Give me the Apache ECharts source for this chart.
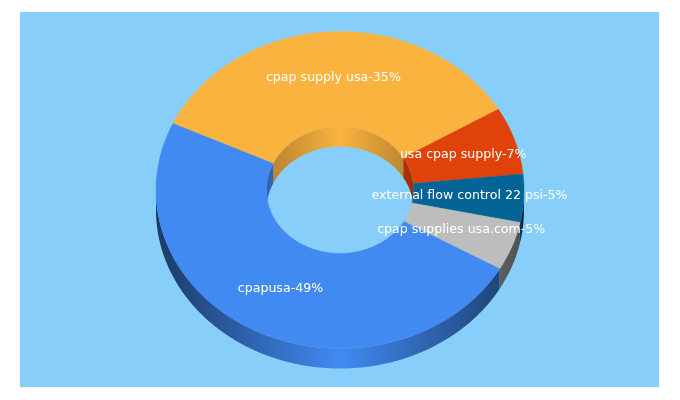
<!DOCTYPE html>
<html>
<head>
<meta charset="utf-8">
<style>html,body{margin:0;padding:0;background:#fff}#c{width:680px;height:400px}</style>
<script src="https://cdn.jsdelivr.net/npm/echarts@6/dist/echarts.min.js"></script>
</head>
<body>
<div id="c"></div>
<script>
var categories = ['cpap supply usa', 'usa cpap supply', 'external flow control 22 psi', 'cpap supplies usa.com', 'cpapusa'];
var values = [34.6, 6.9, 4.9, 5.0, 48.6];
var colors = ['#FBB340', '#E0420A', '#056496', '#BDBDBD', '#418AF2'];

var START = 294.8, CX = 340, CY = 190, RX = 184, RY = 158.5, HOLE = 0.4, DEPTH = 20;
var total = values.reduce(function (a, b) { return a + b; }, 0);
var spans = [], acc = START;
values.forEach(function (v) {
  var s = v / total * 360;
  spans.push([acc, acc + s]);
  acc += s;
});
function pt(deg, f, dy) {
  var a = deg * Math.PI / 180;
  return [CX + RX * f * Math.sin(a), CY - RY * f * Math.cos(a) + (dy || 0)];
}
function arc(a0, a1, f, dy) {
  var out = [], n = Math.max(2, Math.ceil(Math.abs(a1 - a0) / 0.5));
  for (var i = 0; i <= n; i++) out.push(pt(a0 + (a1 - a0) * i / n, f, dy));
  return out;
}
function shade(hex, k) {
  var n = parseInt(hex.slice(1), 16);
  return 'rgb(' + Math.round((n >> 16 & 255) * k) + ',' + Math.round((n >> 8 & 255) * k) + ',' + Math.round((n & 255) * k) + ')';
}
function wallFill(color, f, edge) {
  return {
    type: 'linear', global: true, x: CX - RX * f, y: 0, x2: CX + RX * f, y2: 0,
    colorStops: [
      { offset: 0, color: shade(color, edge) },
      { offset: 0.5, color: color },
      { offset: 1, color: shade(color, edge) }
    ]
  };
}
// intersection of a span (unwrapped degrees) with a visible window
function clip(span, lo, hi) {
  var res = [];
  [-720, -360, 0, 360].forEach(function (o) {
    var a = Math.max(span[0] + o, lo), b = Math.min(span[1] + o, hi);
    if (b > a) res.push([a, b]);
  });
  return res;
}
function band(a, b, f) {
  return arc(a, b, f, 0).concat(arc(b, a, f, DEPTH));
}
function renderWalls(params) {
  var i = params.dataIndex, kids = [], c = colors[i], sp = spans[i];
  clip(sp, 90, 270).forEach(function (w) {
    kids.push({ type: 'polygon', silent: true, shape: { points: band(w[0], w[1], 1) }, style: { fill: wallFill(c, 1, 0.42) } });
  });
  clip(sp, -90, 90).forEach(function (w) {
    kids.push({ type: 'polygon', silent: true, shape: { points: band(w[0], w[1], HOLE) }, style: { fill: wallFill(c, HOLE, 0.72) } });
  });
  return { type: 'group', children: kids };
}
function renderTop(params) {
  var i = params.dataIndex, sp = spans[i];
  var pts = arc(sp[0], sp[1], 1, 0).concat(arc(sp[1], sp[0], HOLE, 0));
  return { type: 'polygon', silent: true, shape: { points: pts }, style: { fill: colors[i], stroke: colors[i], lineWidth: 0.4 } };
}
function renderLabel(params) {
  var i = params.dataIndex, sp = spans[i];
  var p = pt((sp[0] + sp[1]) / 2, 0.705, -0.5);
  return {
    type: 'text', silent: true, x: p[0], y: p[1],
    style: {
      text: categories[i] + '-' + Math.round(values[i]) + '%',
      fill: '#fff', font: '12.6px "DejaVu Sans"', align: 'center', verticalAlign: 'middle'
    }
  };
}
var chart = echarts.init(document.getElementById('c'), null, { renderer: 'canvas' });
chart.setOption({
  animation: false,
  backgroundColor: '#fff',
  graphic: [{ type: 'rect', z: -1, silent: true, shape: { x: 20, y: 12, width: 639, height: 375 }, style: { fill: '#87CEFA' } }],
  xAxis: { show: false }, yAxis: { show: false },
  series: [
    { type: 'custom', coordinateSystem: 'none', z: 2, data: values, renderItem: renderWalls },
    { type: 'custom', coordinateSystem: 'none', z: 3, data: values, renderItem: renderTop },
    { type: 'custom', coordinateSystem: 'none', z: 4, data: values, renderItem: renderLabel }
  ]
});
</script>
</body>
</html>
